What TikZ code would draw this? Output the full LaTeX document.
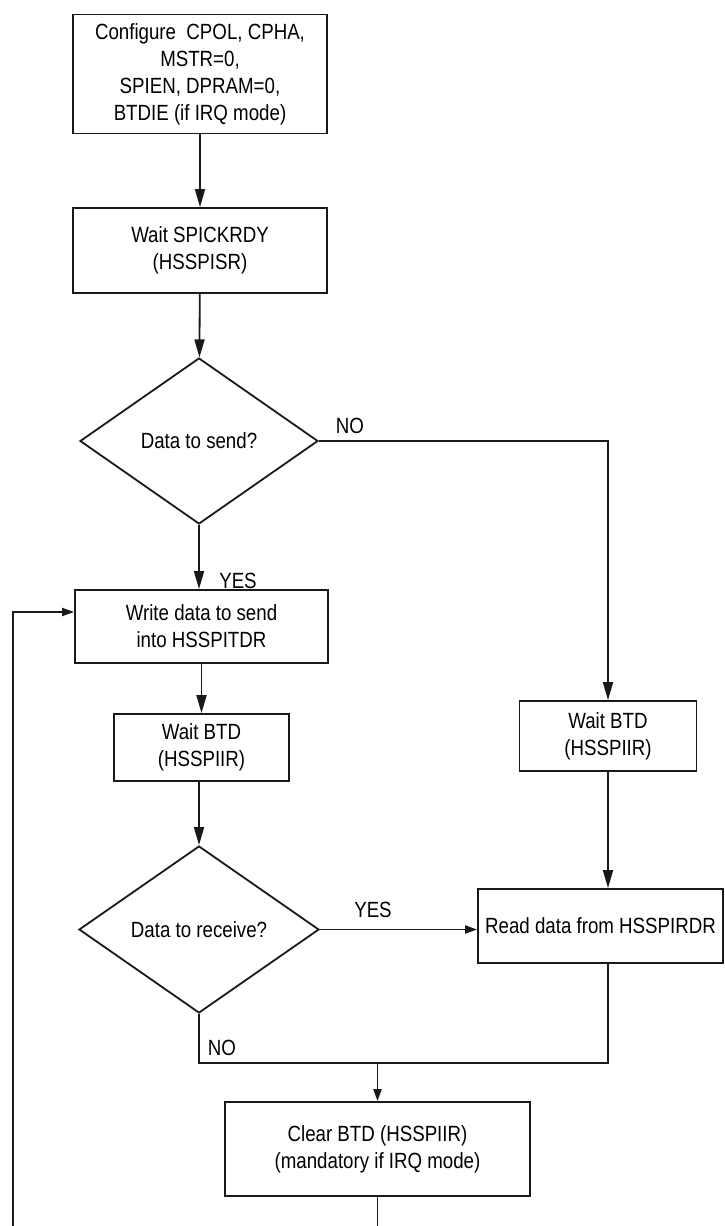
\documentclass[tikz,border=0pt]{standalone}
\usepackage{fontspec}
\setmainfont{Liberation Sans}[FakeStretch=0.85]
\usetikzlibrary{shapes.geometric,arrows.meta}
\tikzset{
  base/.style={draw=black!90, line width=1.8pt, inner sep=0pt, align=center,
    font=\fontsize{22}{27}\selectfont},
  proc/.style={base, rectangle},
  dec/.style={base, diamond},
  lbl/.style={inner sep=0pt, font=\fontsize{22}{27}\selectfont},
  conn/.style={line width=1.8pt, draw=black!90},
  big/.style={conn, -{Triangle[length=18pt,width=10pt]}},
  small/.style={conn, -{Triangle[length=12pt,width=8pt]}},
}
\begin{document}
\begin{tikzpicture}[x=1pt,y=-1pt]
\useasboundingbox (0,0) rectangle (725,1226);
\node[proc, minimum width=254pt, minimum height=119pt] (b1) at (200,74)
  {Configure\ \ CPOL, CPHA,\\MSTR=0,\\SPIEN, DPRAM=0,\\BTDIE (if IRQ mode)};
\node[proc, minimum width=254pt, minimum height=85pt] (b2) at (200,250.5)
  {Wait SPICKRDY\\(HSSPISR)};
\node[dec, minimum width=238pt, minimum height=166pt] (d1) at (199,441)
  {Data to send?};
\node[proc, minimum width=253pt, minimum height=73pt] (b3) at (201.5,626.5)
  {Write data to send\\into HSSPITDR};
\node[proc, minimum width=175pt, minimum height=67pt] (b4) at (201.5,747.5)
  {Wait BTD\\(HSSPIIR)};
\node[dec, minimum width=240pt, minimum height=167pt] (d2) at (199,929.5)
  {Data to receive?};
\node[proc, minimum width=177pt, minimum height=70pt] (b6) at (608,736)
  {Wait BTD\\(HSSPIIR)};
\node[proc, minimum width=245pt, minimum height=74pt] (b5) at (600.5,926)
  {Read data from HSSPIRDR};
\node[proc, minimum width=305pt, minimum height=94pt] (b7) at (377.5,1149)
  {Clear BTD (HSSPIIR)\\(mandatory if IRQ mode)};

\coordinate (j) at (377.5,1063);
\coordinate (bot) at (377.5,1226);
\coordinate (lb) at (13,1226);

\node[lbl] (no1) at (350,426) {NO};
\node[lbl] (yes1) at (238,581) {YES};
\node[lbl] (yes2) at (373,910) {YES};
\node[lbl] (no2) at (222,1048) {NO};

\draw[big] (b1) -- (b2);
\draw[big] (b2) -- (d1);
\draw[big] (d1.south) -- (d1.south |- b3.north);
\draw[big] (b3.south) -- (b3.south |- b4.north);
\draw[big] (d2.north |- b4.south) -- (d2.north);
\draw[big] (d1.east) -| (b6.north);
\draw[big] (b6.south) -- (b6.south |- b5.north);
\draw[small] (d2.east) -- (d2.east -| b5.west);
\draw[conn] (d2.south) |- (b6.south |- j) -- (b6.south |- b5.south);
\draw[small] (j) -- (b7.north);
\draw[conn] (b7.south) -- (bot);
\draw[small] (lb) |- ([yshift=14.5pt]b3.west);
\end{tikzpicture}
\end{document}
